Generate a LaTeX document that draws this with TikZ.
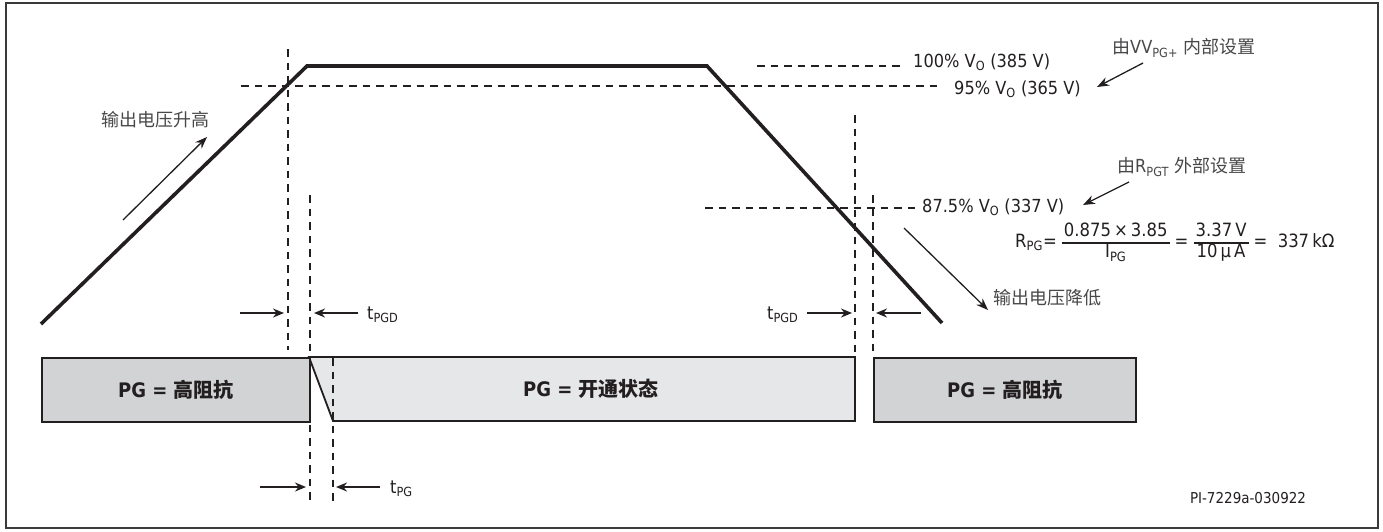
\documentclass[tikz,border=0pt]{standalone}
\usepackage{fontspec}
\setmainfont[FakeStretch=0.9]{DejaVu Sans}
\newfontfamily\cjk{Noto Sans CJK SC}
\usetikzlibrary{arrows.meta}
\definecolor{ink}{HTML}{231F20}
\definecolor{zh}{HTML}{48484A}
\definecolor{hiz}{HTML}{D1D3D4}
\definecolor{onf}{HTML}{E6E7E8}
\definecolor{frame}{HTML}{3A3A3C}
\newcommand\pifrac[2]{\ensuremath{\vcenter{\halign{\hfil\kern2pt##\kern2pt\hfil\cr\strut#1\cr\noalign{\kern0.5pt\hrule height 1.3pt\kern0.5pt}\strut#2\cr}}}}
\begin{document}
\begin{tikzpicture}[x=1pt,y=-1pt,
  every node/.style={inner sep=0pt, text=ink, font=\fontsize{18}{21}\selectfont},
  wave/.style={line width=3.6pt, draw=ink, line join=miter},
  guide/.style={line width=1.6pt, draw=ink, dash pattern=on 7.5pt off 6pt},
  marker/.style={line width=1.6pt, draw=ink, -{Stealth[length=11pt,width=9pt]}},
  pointer/.style={line width=1.3pt, draw=ink, -{Stealth[length=12pt,width=9pt]}},
  statebox/.style={draw=ink, line width=1.8pt},
  zhlabel/.style={font=\cjk\fontsize{18}{21}\selectfont, text=zh},
  boxtext/.style={font=\bfseries\fontsize{20}{24}\selectfont},
  eqn/.style={font=\fontsize{18.3}{19.5}\selectfont},
  small/.style={font=\fontsize{15}{18}\selectfont}]
\useasboundingbox (0,0) rectangle (1383,531);
\draw[frame, line width=2pt, fill=white] (6,3) rectangle (1378,528);

% guide lines
\draw[guide] (241,86) -- (940,86);
\draw[guide] (757,66) -- (900,66);
\draw[guide] (705,208) -- (916,208);
\draw[guide] (288,49) -- (288,350);
\draw[guide] (310,195) -- (310,502);
\draw[guide] (855,115) -- (855,357);
\draw[guide] (873,195) -- (873,357);

% waveform
\coordinate (w0) at (41,324);
\coordinate (w1) at (307,66);
\coordinate (w2) at (707,66);
\coordinate (w3) at (942,323);
\draw[wave] (w0) -- (w1) -- (w2) -- (w3);

% state boxes
\draw[statebox, fill=onf] (309,357) -- (855,357) -- (855,421) -- (333,421) -- cycle;
\node[statebox, fill=hiz, minimum width=268pt, minimum height=64pt, anchor=north west] (hz1) at (41,357) {};
\node[statebox, fill=hiz, minimum width=262pt, minimum height=64pt, anchor=north west] (hz2) at (873,357) {};
\node[boxtext] (hz1t) at (hz1.center) {PG = {\cjk\bfseries 高阻抗}};
\node[boxtext] (hz2t) at (hz2.center) {PG = {\cjk\bfseries 高阻抗}};
\node[boxtext] (ont) at (591,389) {PG = {\cjk\bfseries 开通状态}};
\draw[guide] (333,358) -- (333,502);

% timing markers
\coordinate (m1a) at (240,313); \coordinate (m1b) at (284,313);
\coordinate (m2a) at (358,313); \coordinate (m2b) at (314,313);
\draw[marker] (m1a) -- (m1b);
\draw[marker] (m2a) -- (m2b);
\node[anchor=west] (tpgd1) at (367,315) {t\textsubscript{PGD}};

\coordinate (m3a) at (260,487); \coordinate (m3b) at (306,487);
\coordinate (m4a) at (380,487); \coordinate (m4b) at (336,487);
\draw[marker] (m3a) -- (m3b);
\draw[marker] (m4a) -- (m4b);
\node[anchor=west] (tpg) at (390,489) {t\textsubscript{PG}};

\node[anchor=west] (tpgd2) at (767,315) {t\textsubscript{PGD}};
\coordinate (m5a) at (807,313); \coordinate (m5b) at (852,313);
\coordinate (m6a) at (921,313); \coordinate (m6b) at (876,313);
\draw[marker] (m5a) -- (m5b);
\draw[marker] (m6a) -- (m6b);

% rise / fall labels
\node[zhlabel] (rise) at (155,120) {输出电压升高};
\coordinate (r0) at (123,220); \coordinate (r1) at (207,137);
\draw[pointer] (r0) -- (r1);
\node[zhlabel, anchor=west] (fall) at (993,298) {输出电压降低};
\coordinate (f0) at (904,228); \coordinate (f1) at (988,310);
\draw[pointer] (f0) -- (f1);

% level labels
\node[anchor=west] (l100) at (913,62) {100\% V\textsubscript{O} (385 V)};
\node[anchor=west] (l95) at (954,89) {95\% V\textsubscript{O} (365 V)};
\node[anchor=west] (l875) at (922,207) {87.5\% V\textsubscript{O} (337 V)};

\node[anchor=west, text=zh] (intl) at (1112,48) {{\cjk 由}VV\textsubscript{PG+} {\cjk 内部设置}};
\coordinate (p0) at (1143,63); \coordinate (p1) at (1097,87);
\draw[pointer] (p0) -- (p1);
\node[anchor=west, text=zh] (extl) at (1117,167) {{\cjk 由}R\textsubscript{PGT} {\cjk 外部设置}};
\coordinate (q0) at (1129,182); \coordinate (q1) at (1083,205);
\draw[pointer] (q0) -- (q1);

% formula
\node[eqn, anchor=west] (formula) at (1015,243) {R\textsubscript{PG}=\;\pifrac{0.875\,×\,3.85}{I\textsubscript{PG}}\;=\;\pifrac{3.37\,V}{10\,µ\,A}\;=\; 337\,kΩ};

\node[small] (code) at (1248,498) {PI-7229a-030922};
\end{tikzpicture}
\end{document}
